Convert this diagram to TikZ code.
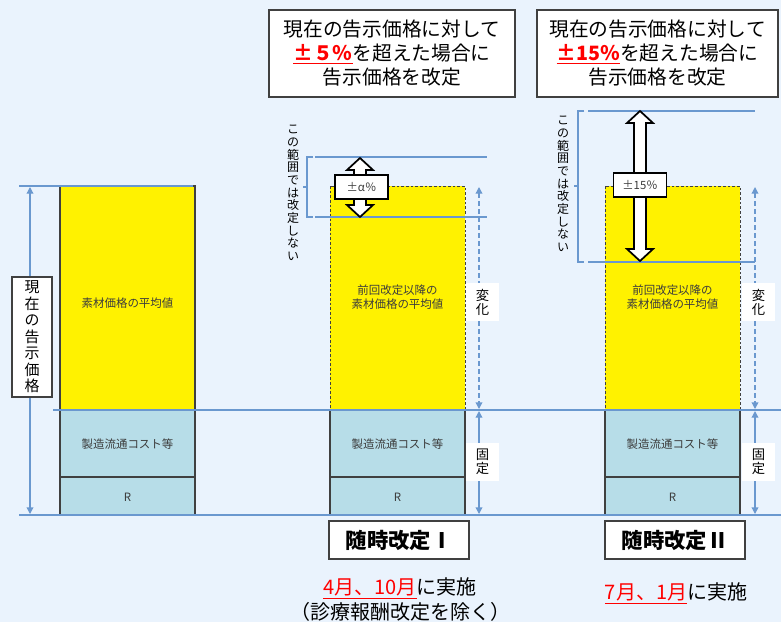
\documentclass[tikz,border=0pt]{standalone}
\usepackage{fontspec}
\setmainfont{Noto Sans CJK JP}
\usetikzlibrary{arrows.meta}

\definecolor{bgblue}{RGB}{234,243,253}
\definecolor{barblue}{RGB}{183,221,232}
\definecolor{lineblue}{RGB}{106,152,207}
\definecolor{darkline}{RGB}{64,64,64}
\definecolor{labelgray}{RGB}{60,60,60}

\newcommand{\redmark}[1]{\textcolor{red}{\underline{\textbf{#1}}}}
\newcommand{\redline}[1]{\textcolor{red}{\underline{#1}}}
% up-down block arrow: x, top, bottom
\newcommand{\dblarrow}[3]{%
  \filldraw[bigarrow] (#1,#2) -- ({#1+13},{#2+12}) -- ({#1+6},{#2+12})
    -- ({#1+6},{#3-12}) -- ({#1+13},{#3-12}) -- (#1,#3) -- ({#1-13},{#3-12})
    -- ({#1-6},{#3-12}) -- ({#1-6},{#2+12}) -- ({#1-13},{#2+12}) -- cycle;}

\tikzset{
  guide/.style={lineblue, line width=1.1pt},
  span/.style={lineblue, line width=1pt,
    {Triangle[width=5pt,length=5pt]}-{Triangle[width=5pt,length=5pt]}},
  bigarrow/.style={fill=white, draw=black, line width=1.3pt, line join=miter},
  bar/.style={draw=darkline, line width=0.9pt},
  openbar/.style={draw=darkline, line width=0.7pt, dash pattern=on 2pt off 1.5pt},
  barlabel/.style={text=labelgray, font=\fontsize{8.6pt}{11pt}\selectfont, align=center},
  tate/.style={align=center, inner sep=0pt, font=\fontsize{9pt}{9.5pt}\selectfont},
  tagbox/.style={fill=white, align=center, minimum width=25pt, minimum height=28pt,
    inner sep=0pt, font=\fontsize{10pt}{10.5pt}\selectfont},
  pricebox/.style={fill=white, draw=darkline, line width=0.8pt, align=center,
    minimum width=30pt, minimum height=90pt, inner sep=0pt,
    font=\fontsize{11.2pt}{12.4pt}\selectfont},
  pctbox/.style={fill=white, draw=black, line width=1.2pt, minimum width=40pt,
    minimum height=18pt, inner sep=0pt, text=labelgray, font=\fontsize{8.5pt}{10pt}\selectfont},
  notebox/.style={fill=white, draw=darkline, line width=0.8pt, align=center,
    minimum height=65.25pt, inner sep=0pt, font=\fontsize{14.8pt}{18pt}\selectfont},
  kaiteibox/.style={fill=white, draw=darkline, line width=0.8pt, minimum width=105pt,
    minimum height=28.5pt, inner sep=0pt, font=\fontsize{16pt}{18pt}\selectfont\bfseries},
  caption/.style={align=center, font=\fontsize{15pt}{18.75pt}\selectfont}
}

\begin{document}
\begin{tikzpicture}[x=0.75pt,y=-0.75pt]
  \fill[bgblue] (0,0) rectangle (781,622);
  \useasboundingbox (0,0) rectangle (781,622);

  % bars
  \filldraw[bar, fill=yellow] (60,186) rectangle (195,410);
  \node[barlabel] (avg_L) at (127.5,303) {素材価格の平均値};
  \foreach \bx/\s in {330/M,605/R} {
      \filldraw[openbar, fill=yellow] (\bx,186) rectangle ++(135,224);
      \node[barlabel] (avg_\s) at ({\bx+67.5},297) {前回改定以降の\\素材価格の平均値};
    }
  \foreach \bx/\s in {60/L,330/M,605/R} {
      \filldraw[bar, fill=barblue] (\bx,410) rectangle ++(135,67);
      \filldraw[bar, fill=barblue] (\bx,477) rectangle ++(135,38);
      \node[barlabel] (cost_\s) at ({\bx+67.5},444) {製造流通コスト等};
      \node[barlabel] (r_\s) at ({\bx+67.5},497) {R};
    }

  % levels
  \draw[guide] (19,186) -- (193,186);
  \draw[guide] (53,410) -- (781,410);
  \draw[guide] (19,515) -- (781,515);
  \draw[guide] (315,157) -- (487,157) (315,217) -- (487,217);
  \draw[guide] (588,111) -- (755,111) (588,262) -- (755,262);
  \draw[lineblue, line width=0.8pt] (313,157) -- (307,157) -- (307,217) -- (313,217)
    (307,187) -- (303,187);
  \draw[lineblue, line width=0.8pt] (584,111) -- (578,111) -- (578,262) -- (584,262)
    (578,186) -- (574,186);
  \node[tate] (keep_M) at (293,193) {こ\\の\\範\\囲\\で\\は\\改\\定\\し\\な\\い};
  \node[tate] (keep_R) at (563,184) {こ\\の\\範\\囲\\で\\は\\改\\定\\し\\な\\い};

  % current price
  \coordinate (p_top) at (30,187);
  \coordinate (p_bot) at (30,514);
  \draw[span] (p_top) -- (p_bot);
  \node[pricebox] (price) at (32,337) {現\\在\\の\\告\\示\\価\\格};

  % change / fixed
  \foreach \ax/\s in {479/M,755/R} {
      \draw[span, dashed, dash pattern=on 3.5pt off 2.5pt] (\ax,187) coordinate (c_\s) -- (\ax,409);
      \draw[span] (\ax,411) coordinate (f_\s) -- (\ax,514);
      \node[tagbox] (chg_\s) at ({\ax+3.5},302) {変\\化};
      \node[tagbox] (fix_\s) at ({\ax+3.5},462) {固\\定};
    }

  % band arrows
  \dblarrow{360}{158}{217}
  \dblarrow{640}{111}{261}
  \node[pctbox] (alpha) at (361.5,187) {±α％};
  \node[pctbox] (fifteen) at (640,185) {±15％};

  % notes
  \node[notebox, minimum width=184.5pt] (note_M) at (392,53.5)
    {現在の告示価格に対して\\\redmark{±５％}を超えた場合に\\告示価格を改定};
  \node[notebox, minimum width=180.75pt] (note_R) at (657.5,53.5)
    {現在の告示価格に対して\\\redmark{±15％}を超えた場合に\\告示価格を改定};

  \node[kaiteibox] (kaitei_M) at (399,540) {随時改定Ⅰ};
  \node[kaiteibox] (kaitei_R) at (675,540) {随時改定Ⅱ};
  \node[caption] (when_M) at (400,599.5) {\redline{4月、10月}に実施\\（診療報酬改定を除く）};
  \node[caption] (when_R) at (676,593) {\redline{7月、1月}に実施};
\end{tikzpicture}
\end{document}
